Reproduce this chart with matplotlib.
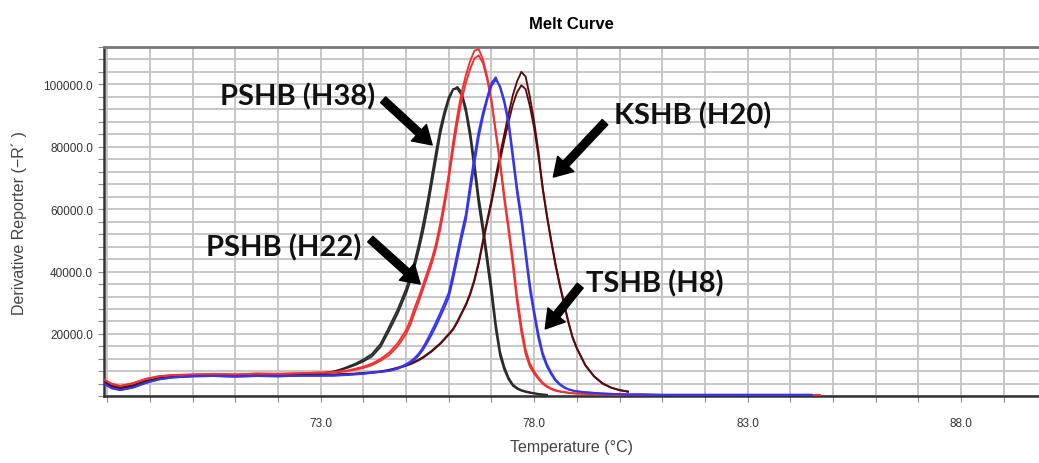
import matplotlib
matplotlib.use("Agg")
import matplotlib.pyplot as plt
import numpy as np
from matplotlib.ticker import MultipleLocator, FuncFormatter

# temperatures (deg C) of the flat start, shared by all runs
base_temps = [67.9, 68.1, 68.3, 68.6, 68.9, 69.2, 69.5, 70.0, 70.5, 71.0, 71.5, 72.0, 72.5, 73.0]
# temperatures of the melt part
melt_temps = [73.3, 73.6, 73.8, 74.0, 74.2, 74.4, 74.6, 74.8,
              75.0, 75.1, 75.2, 75.3, 75.4, 75.5, 75.6, 75.7, 75.8, 75.9,
              76.0, 76.1, 76.2, 76.3, 76.4, 76.5, 76.6, 76.7, 76.8, 76.9,
              77.0, 77.1, 77.2, 77.3, 77.4, 77.5, 77.6, 77.7, 77.8, 77.9,
              78.0, 78.1, 78.2, 78.3, 78.4, 78.5, 78.6, 78.7, 78.8, 78.9,
              79.0, 79.2, 79.4, 79.6, 79.8, 80.0, 80.2,
              80.5, 81.0, 82.0, 83.0, 84.0, 84.5, 84.7]

N = None
# -dF/dT in thousands
black_base = [5.0, 3.5, 2.8, 3.5, 4.9, 5.8, 6.3, 6.6, 6.8, 6.7, 6.9, 6.8, 7.0, 7.3]
black_a = [8.0, 9.0, 10.0, 11.2, 12.8, 15.8, 21.0, 26.5,
           33.0, 37.0, 41.5, 47.0, 53.0, 60.0, 68.0, 76.0, 84.0, 90.0,
           95.0, 98.3, 99.2, 97.5, 92.5, 85.0, 75.0, 64.0, 55.0, 45.0,
           35.0, 23.5, 14.5, 9.5, 6.0, 3.8, 2.7, 2.0, 1.6, 1.3,
           1.0, 0.8, 0.6, 0.5, N, N, N, N, N, N,
           N, N, N, N, N, N, N,
           N, N, N, N, N, N, N]
black_b = [7.8, 9.3, 10.4, 11.8, 13.6, 16.8, 22.2, 27.8,
           34.5, 38.6, 43.3, 49.0, 55.5, 62.5, 70.5, 78.5, 86.0, 91.5,
           96.0, 98.5, 98.6, 96.5, 91.0, 83.0, 72.5, 61.5, 52.5, 42.5,
           32.5, 21.5, 13.0, 8.5, 5.4, 3.4, 2.4, 1.8, 1.4, 1.1,
           0.9, 0.7, 0.5, 0.4, N, N, N, N, N, N,
           N, N, N, N, N, N, N,
           N, N, N, N, N, N, N]

red_base = [5.5, 4.0, 3.3, 4.2, 5.6, 6.4, 6.8, 7.0, 7.2, 7.0, 7.3, 7.2, 7.4, 7.6]
red_a = [7.8, 8.2, 8.8, 9.5, 10.5, 12.0, 14.0, 17.0,
         21.3, 24.5, 28.5, 32.0, 36.0, 40.0, 44.0, 49.0, 55.5, 63.0,
         71.5, 81.5, 90.0, 97.5, 103.0, 107.5, 110.8, 111.3, 108.0, 102.5,
         95.0, 84.5, 74.5, 63.0, 53.0, 42.0, 30.0, 20.5, 13.5, 9.5,
         7.3, 5.5, 4.0, 3.0, 2.3, 1.8, 1.5, 1.3, 1.1, 1.0,
         0.9, 0.8, 0.7, 0.6, 0.6, 0.5, 0.5,
         0.5, 0.4, 0.4, 0.4, 0.4, 0.4, 0.4]
red_b = [7.6, 8.0, 8.5, 9.1, 10.0, 11.4, 13.2, 16.0,
         20.0, 23.0, 26.8, 30.5, 34.5, 38.5, 42.5, 47.5, 53.5, 61.0,
         69.5, 79.0, 87.5, 95.0, 100.5, 105.0, 108.3, 109.3, 106.8, 101.5,
         94.5, 85.0, 75.5, 64.5, 54.5, 44.0, 32.0, 22.5, 15.0, 10.5,
         8.0, 6.0, 4.4, 3.3, 2.5, 2.0, 1.6, 1.4, 1.2, 1.0,
         0.9, 0.8, 0.7, 0.6, 0.6, 0.5, 0.5,
         0.5, 0.4, 0.4, 0.4, 0.4, 0.4, 0.4]

blue_base = [4.2, 2.6, 2.0, 2.8, 4.3, 5.4, 6.0, 6.4, 6.5, 6.3, 6.5, 6.4, 6.6, 6.6]
blue_a = [6.7, 6.9, 7.1, 7.3, 7.6, 7.9, 8.2, 9.0,
          10.3, 11.2, 12.3, 13.8, 15.8, 18.3, 21.0, 23.8, 26.8, 30.0,
          33.3, 39.5, 46.0, 52.5, 58.5, 68.0, 77.0, 85.0, 91.0, 96.0,
          100.5, 102.3, 99.0, 94.0, 87.0, 76.0, 65.0, 56.0, 45.0, 34.0,
          26.0, 18.5, 13.0, 9.5, 7.0, 5.0, 3.7, 2.8, 2.2, 1.8,
          1.6, 1.3, 1.1, 0.9, 0.8, 0.7, 0.6,
          0.6, 0.5, 0.5, 0.5, 0.5, 0.5, N]
blue_b = [6.6, 6.8, 7.0, 7.2, 7.5, 7.8, 8.1, 8.8,
          10.0, 10.8, 11.8, 13.2, 15.0, 17.3, 19.8, 22.5, 25.5, 28.5,
          31.8, 37.5, 44.0, 50.5, 56.5, 65.5, 74.5, 83.0, 89.5, 95.0,
          99.5, 101.5, 99.5, 95.0, 88.5, 78.0, 67.0, 58.0, 47.0, 36.0,
          27.5, 20.0, 14.0, 10.3, 7.6, 5.4, 4.0, 3.0, 2.3, 1.9,
          1.6, 1.3, 1.1, 0.9, 0.8, 0.7, 0.6,
          0.6, 0.5, 0.5, 0.5, 0.5, 0.5, N]

dark_base = [4.6, 3.2, 2.5, 3.2, 4.6, 5.6, 6.2, 6.5, 6.6, 6.5, 6.7, 6.6, 6.8, 6.9]
dark_a = [7.0, 7.2, 7.3, 7.5, 7.7, 8.0, 8.5, 9.2,
          10.0, 10.5, 11.1, 11.8, 12.6, 13.6, 14.6, 15.8, 17.0, 18.5,
          20.0, 21.6, 24.0, 26.8, 29.5, 33.0, 37.5, 43.0, 50.0, 56.5,
          63.0, 70.5, 77.5, 84.0, 90.5, 96.5, 101.0, 104.0, 102.5, 96.0,
          88.0, 78.5, 67.0, 58.0, 50.0, 42.5, 36.0, 30.0, 24.0, 19.0,
          15.5, 10.0, 6.5, 4.2, 2.8, 2.0, 1.5,
          N, N, N, N, N, N, N]
dark_b = [6.9, 7.1, 7.2, 7.4, 7.6, 7.9, 8.3, 9.0,
          9.8, 10.3, 10.9, 11.6, 12.4, 13.4, 14.4, 15.6, 16.8, 18.3,
          19.8, 21.4, 23.7, 26.5, 29.2, 32.6, 37.0, 42.5, 49.3, 55.8,
          62.0, 69.0, 75.5, 82.0, 88.0, 93.5, 97.5, 99.7, 98.5, 93.0,
          86.0, 77.0, 66.5, 57.5, 49.5, 42.0, 35.5, 29.5, 23.8, 18.8,
          15.3, 9.9, 6.4, 4.1, 2.8, 2.0, 1.5,
          N, N, N, N, N, N, N]

runs = [
    ("#2b2b2b", black_base, [black_a, black_b]),
    ("#5c0b0b", dark_base, [dark_a, dark_b]),
    ("#f23030", red_base, [red_a, red_b]),
    ("#3535f0", blue_base, [blue_a, blue_b]),
]

# label text, text anchor, arrow tail, arrow tip (temp, value in thousands)
labels = [
    ("PSHB (H38)", (70.64, 96.4), (74.46, 95.1), (75.61, 80.6)),
    ("PSHB (H22)", (70.31, 47.9), (74.16, 50.4), (75.33, 36.0)),
    ("KSHB (H20)", (79.88, 90.2), (79.66, 87.9), (78.45, 70.3)),
    ("TSHB (H8)", (79.22, 36.4), (79.08, 35.5), (78.26, 21.6)),
]

fig = plt.figure(figsize=(10.39, 4.64), dpi=100)
ax = fig.add_axes([0.1001, 0.1437, 0.8999, 0.7529])

for color, base, reps in runs:
    for rep in reps:
        x = base_temps + melt_temps
        y = np.array(base + rep, dtype=float) * 1000
        ax.plot(x, y, color=color, lw=1.35, zorder=3)

for txt, tpos, tail, tip in labels:
    ax.text(tpos[0], tpos[1] * 1000, txt, fontsize=21, fontweight='bold',
            family='Lato', ha='left', va='center', color='#111111', zorder=5)
    ax.annotate('', xy=(tip[0], tip[1] * 1000), xytext=(tail[0], tail[1] * 1000),
                arrowprops=dict(facecolor='black', edgecolor='black', width=5.5,
                                headwidth=16, headlength=13, shrink=0), zorder=5)

ax.set_xlim(67.92, 89.83)
ax.set_ylim(0, 112000)

ax.xaxis.set_major_locator(MultipleLocator(1))
ax.yaxis.set_major_locator(MultipleLocator(4000))
ax.xaxis.set_major_formatter(FuncFormatter(
    lambda v, p: f"{v:.1f}" if v > 70 and abs((v - 73) % 5) < 1e-6 else ""))
ax.yaxis.set_major_formatter(FuncFormatter(
    lambda v, p: f"{v:.1f}" if v > 0 and abs(v % 20000) < 1e-6 else ""))

ax.grid(True, color='#c6c6c6', lw=1.4, zorder=0)
ax.set_axisbelow(True)
ax.tick_params(axis='x', length=4, color='#888888', pad=11, labelsize=8.5, labelcolor='#333333')
ax.tick_params(axis='y', length=4, color='#888888', pad=4, labelsize=8.5, labelcolor='#333333')
for lab in ax.get_xticklabels() + ax.get_yticklabels():
    lab.set_family('Liberation Sans')

ax.spines['right'].set_visible(False)
ax.spines['top'].set_color('#777777')
ax.spines['top'].set_linewidth(2)
ax.spines['left'].set_color('#333333')
ax.spines['left'].set_linewidth(1.8)
ax.spines['bottom'].set_color('#333333')
ax.spines['bottom'].set_linewidth(1.8)

ax.set_title("Melt Curve", fontsize=12, fontweight='bold', pad=14,
             family='Liberation Sans')
ax.set_xlabel("Temperature (°C)", fontsize=11.5, color='#444444', family='Liberation Sans')
ax.set_ylabel("Derivative Reporter (\u2212R\u00b4 )", fontsize=11.5, color='#444444',
              family='Liberation Sans')
ax.xaxis.set_label_coords(0.5, -0.122)
ax.yaxis.set_label_coords(-0.082, 0.5)

fig.savefig("out.png", dpi=100)
